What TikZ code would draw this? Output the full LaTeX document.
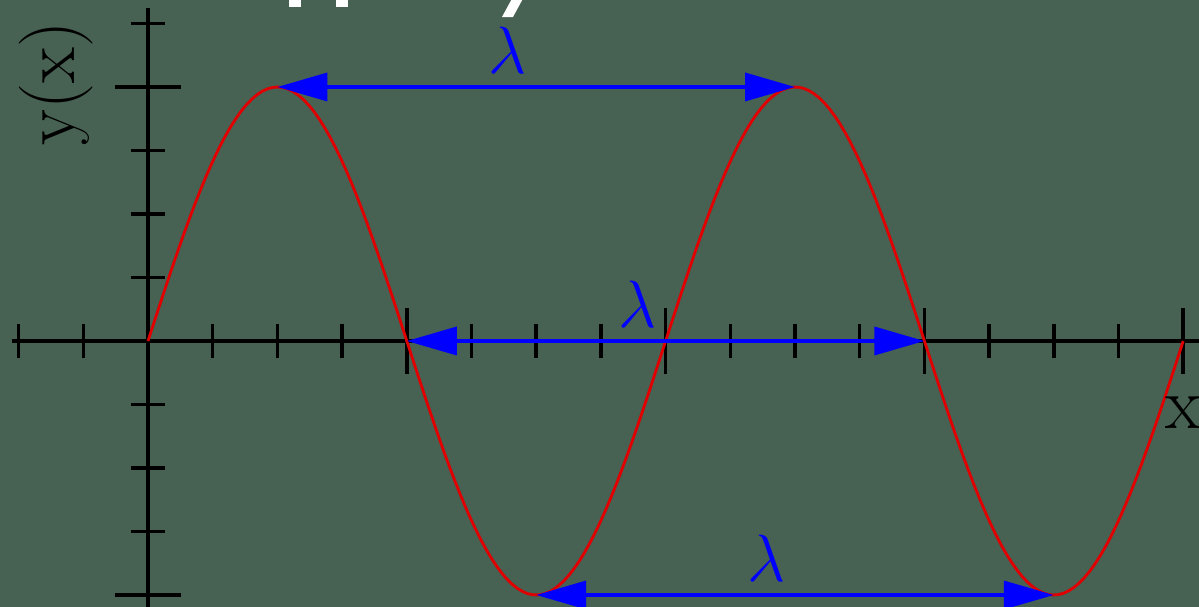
\documentclass[tikz,border=0pt]{standalone}
\usepackage{fontspec}
\usepackage{graphicx}
\usepackage{tikz}
\usetikzlibrary{arrows.meta}
\definecolor{bgwave}{RGB}{71,97,82}
\definecolor{wavered}{RGB}{225,0,0}
\newcommand{\biglam}{\scalebox{1.53}{\Huge$\lambda$}}

\begin{document}
\begin{tikzpicture}[x=1.294cm, y=1.27cm,
  axisline/.style={line width=2pt, black},
  wavearrow/.style={line width=2pt, blue, {Triangle[length=1cm,width=0.56cm]}-{Triangle[length=1cm,width=0.56cm]}},
  lambdalabel/.style={text=blue, inner sep=0pt, above=0.24cm, xshift=-0.57cm},
  axislabel/.style={font=\fontsize{42}{48}\selectfont, inner sep=0pt}]
% Hintergrund und Rahmen
\fill[bgwave] (-2.2875,-4.189) rectangle (16.244,5.37);
\useasboundingbox (-2.2875,-4.189) rectangle (16.244,5.37);
% abgeschnittene Schrift am oberen Rand
\fill[white] (2.18,5.26) rectangle (2.36,5.40);
\fill[white] (2.91,5.26) rectangle (3.09,5.40);
\fill[white] (5.47,5.10) -- (5.64,5.10) -- (5.80,5.40) -- (5.63,5.40) -- cycle;
% Achsen
\draw[axisline] (-2.1,0) -- (16.3,0);
\draw[axisline] (0,-4.3) -- (0,5.24);
% Teilstriche
\foreach \i in {-2,-1,1,2,3,5,6,7,9,10,11,13,14,15}
  \draw[axisline] (\i,-0.27) -- (\i,0.27);
\foreach \i in {0,4,8,12,16}
  \draw[axisline] (\i,-0.52) -- (\i,0.52);
\foreach \j in {-3,-2,-1,1,2,3,5}
  \draw[axisline] (-0.263,\j) -- (0.263,\j);
\foreach \j in {-4,0,4}
  \draw[axisline] (-0.51,\j) -- (0.51,\j);
% Welle
\draw[wavered, line width=1.6pt, domain=0:16, samples=200] plot (\x, {4*sin(45*\x)});
% Berge, Nulldurchgaenge, Taeler
\coordinate (peak1) at (2,4);
\coordinate (peak2) at (10,4);
\coordinate (zero1) at (4,0);
\coordinate (zero2) at (12,0);
\coordinate (trough1) at (6,-4);
\coordinate (trough2) at (14,-4);
% Wellenlaengen
\draw[wavearrow] (peak1) -- (peak2) node[midway, lambdalabel] (lamtop) {\biglam};
\draw[wavearrow] (zero1) -- (zero2) node[midway, lambdalabel] (lammid) {\biglam};
\draw[wavearrow] (trough1) -- (trough2) node[midway, lambdalabel] (lambot) {\biglam};
% Achsenbeschriftung
\node[axislabel, rotate=90] (ylab) at (-1.42,4.06) {y(x)};
\node[axislabel] (xlab) at (16.0,-1.134) {x};
\end{tikzpicture}
\end{document}
